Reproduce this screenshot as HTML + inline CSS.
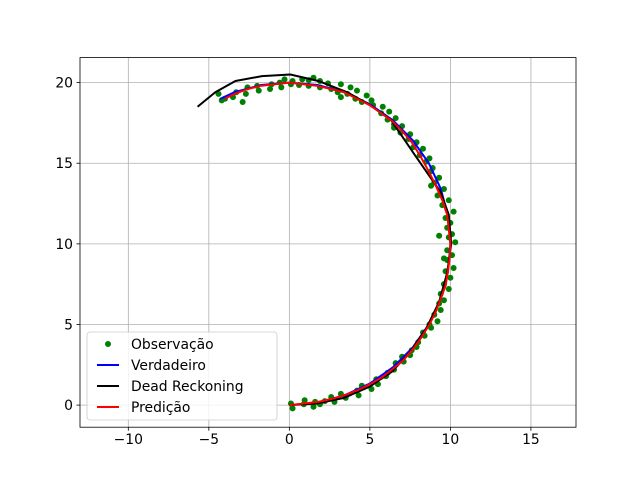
<!DOCTYPE html>
<html><head><meta charset="utf-8"><style>
body{margin:0;background:#fff}
svg{display:block;font-family:"DejaVu Sans","Liberation Sans",sans-serif}
</style></head><body>
<svg id="chart" width="640" height="480"></svg>
<script>
const xTicks=[-10,-5,0,5,10,15];
const yTicks=[0,5,10,15,20];
const trueX=[0,1.74,3.42,5,6.43,7.66,8.66,9.4,9.85,10,9.85,9.4,8.66,7.66,6.43,5,3.42,1.74,0,-1.74,-3.42,-4.3];
const trueY=[0,0.15,0.6,1.34,2.34,3.57,5,6.58,8.26,10,11.74,13.42,15,16.43,17.66,18.66,19.4,19.85,20,19.85,19.4,18.99];
const predX=[0,0.9,1.8,2.7,3.5,4.3,5.1,5.8,6.5,7.1,7.7,8.2,8.7,9.1,9.4,9.7,9.85,9.95,10,9.9,9.8,9.5,9.1,8.6,8.1,7.6,7.0,6.4,5.7,5.0,4.2,3.4,2.6,1.7,0.9,0,-0.9,-1.8,-2.6,-3.4,-4.0];
const predY=[0,0.1,0.2,0.4,0.65,0.95,1.35,1.75,2.3,2.8,3.5,4.2,5.0,5.8,6.6,7.4,8.3,9.1,10,10.9,11.8,12.7,13.6,14.6,15.5,16.3,17.0,17.6,18.1,18.6,19.0,19.4,19.6,19.8,19.9,20,19.9,19.8,19.6,19.3,19.0];
const drX=[0,1.7,3.4,5,6.4,7.5,8.5,9.3,9.8,10.05,9.9,9.4,7.8,6.3,5,3.6,1.8,0.06,-1.7,-3.35,-4.6,-5.7];
const drY=[0,0.1,0.45,1.15,2.1,3.3,4.75,6.4,8.2,10,11.8,13.2,15.5,17.7,18.6,19.4,20.1,20.5,20.4,20.1,19.4,18.5];
const obsX=[0.1,0.2,0.9,0.95,1.5,1.6,2.2,1.9,2.6,2.8,3.2,3.5,4.2,4.3,4.5,5.1,5.4,5.5,6.0,6.1,6.5,6.6,7.1,7.0,7.6,7.5,8.0,7.9,8.4,8.3,8.8,8.7,9.2,9.0,9.4,9.3,9.6,9.4,9.9,9.6,10.0,9.7,10.2,9.8,10.1,9.8,10.3,9.9,10.1,9.8,10.0,9.7,10.2,9.5,9.9,9.2,9.6,9.0,9.3,8.8,8.9,8.5,8.7,8.1,8.3,7.7,7.9,7.4,7.5,6.9,7.0,6.5,6.6,6.1,6.2,5.7,5.8,5.2,5.1,4.5,4.8,4.1,4.2,3.6,3.8,3.0,3.2,2.6,2.4,1.9,1.9,1.2,1.2,0.6,0.8,0.1,0.2,-0.5,-0.6,-1.2,-1.1,-1.9,-2.0,-2.7,-2.6,-3.5,-3.3,-4.0,-4.4,-2.9,9.3,8.8,9.6,6.5,1.5,3.2,-4.2,-0.3];
const obsY=[0.1,-0.2,0.05,0.3,-0.1,0.2,0.25,0.05,0.5,0.2,0.7,0.45,0.9,0.6,1.2,1.0,1.6,1.3,1.8,2.0,2.2,2.6,2.7,3.0,3.4,3.1,3.9,3.6,4.3,4.5,4.8,5.0,5.2,5.6,5.9,6.3,6.5,6.9,7.2,7.5,7.9,8.3,8.5,9.0,9.3,9.6,10.1,10.4,10.6,11.0,11.3,11.6,12.0,12.4,12.7,13.0,13.4,13.8,14.1,14.5,14.7,15.1,15.3,15.5,15.9,16.0,16.3,16.5,16.8,16.9,17.3,17.4,17.8,17.7,18.2,18.1,18.5,18.6,18.9,18.8,19.2,19.0,19.5,19.3,19.7,19.4,19.9,19.6,19.95,19.7,20.1,19.8,20.15,19.85,20.2,19.9,20.1,19.7,20.0,19.6,19.9,19.5,19.8,19.3,19.7,19.1,19.4,19.0,19.3,18.8,10.5,13.6,9.1,17.2,20.3,19.1,18.9,20.2];
const L=80,R=576,T=57.6,B=427.2,x0=-13,x1=17.8,y0=-1.37,y1=21.55;
const sx=v=>L+(v-x0)/(x1-x0)*(R-L);
const sy=v=>B-(v-y0)/(y1-y0)*(B-T);
const svg=document.getElementById('chart');
const NS='http://www.w3.org/2000/svg';
function mk(t,a){const e=document.createElementNS(NS,t);for(const k in a)e.setAttribute(k,a[k]);svg.appendChild(e);return e;}
xTicks.forEach(v=>{
 const g=mk('line',{x1:sx(v),x2:sx(v),y1:T,y2:B,stroke:'#b0b0b0','stroke-width':0.8});
 
 
 mk('line',{x1:sx(v),x2:sx(v),y1:B,y2:B+3.5,stroke:'#000','stroke-width':0.8});
 const t=mk('text',{x:sx(v),y:B+17,'text-anchor':'middle','font-size':'13.9px'});t.textContent=v<0?'\u2212'+(-v):v;
 
 
});
yTicks.forEach(v=>{
 const g=mk('line',{x1:L,x2:R,y1:sy(v),y2:sy(v),stroke:'#b0b0b0','stroke-width':0.8});
 
 
 mk('line',{x1:L-3.5,x2:L,y1:sy(v),y2:sy(v),stroke:'#000','stroke-width':0.8});
 const t=mk('text',{x:L-7,y:sy(v)+5,'text-anchor':'end','font-size':'13.9px'});t.textContent=v;
 
 
});
obsX.forEach((v,i)=>{
 const c=mk('circle',{cx:sx(v),cy:sy(obsY[i]),r:3,fill:'#008000'});
 
 
});
function line(xs,ys,col,name){
 const p=mk('polyline',{points:xs.map((v,i)=>sx(v)+','+sy(ys[i])).join(' '),fill:'none',stroke:col,'stroke-width':2,'stroke-linejoin':'round'});
 
 
}
line(trueX,trueY,'#0000ff','true-trajectory-line');
line(drX,drY,'#000000','dead-reckoning-line');
line(predX,predY,'#ff0000','prediction-line');
const fr=mk('rect',{x:L,y:T,width:R-L,height:B-T,fill:'none',stroke:'#000','stroke-width':0.8});


const lg=mk('rect',{x:87,y:332,width:190,height:88,rx:3,fill:'#fff','fill-opacity':0.8,stroke:'#ccc','stroke-width':0.8});


const labels=['Observação','Verdadeiro','Dead Reckoning','Predição'];
const cols=['#008000','#0000ff','#000000','#ff0000'];
labels.forEach((s,i)=>{
 const y=344+i*21;
 if(i===0){mk('circle',{cx:108,cy:y,r:3,fill:cols[0]});}
 else mk('line',{x1:97,x2:119,y1:y,y2:y,stroke:cols[i],'stroke-width':2});
 const t=mk('text',{x:131,y:y+5,'font-size':'13.9px'});t.textContent=s;
 
 
});
</script>
</body></html>
